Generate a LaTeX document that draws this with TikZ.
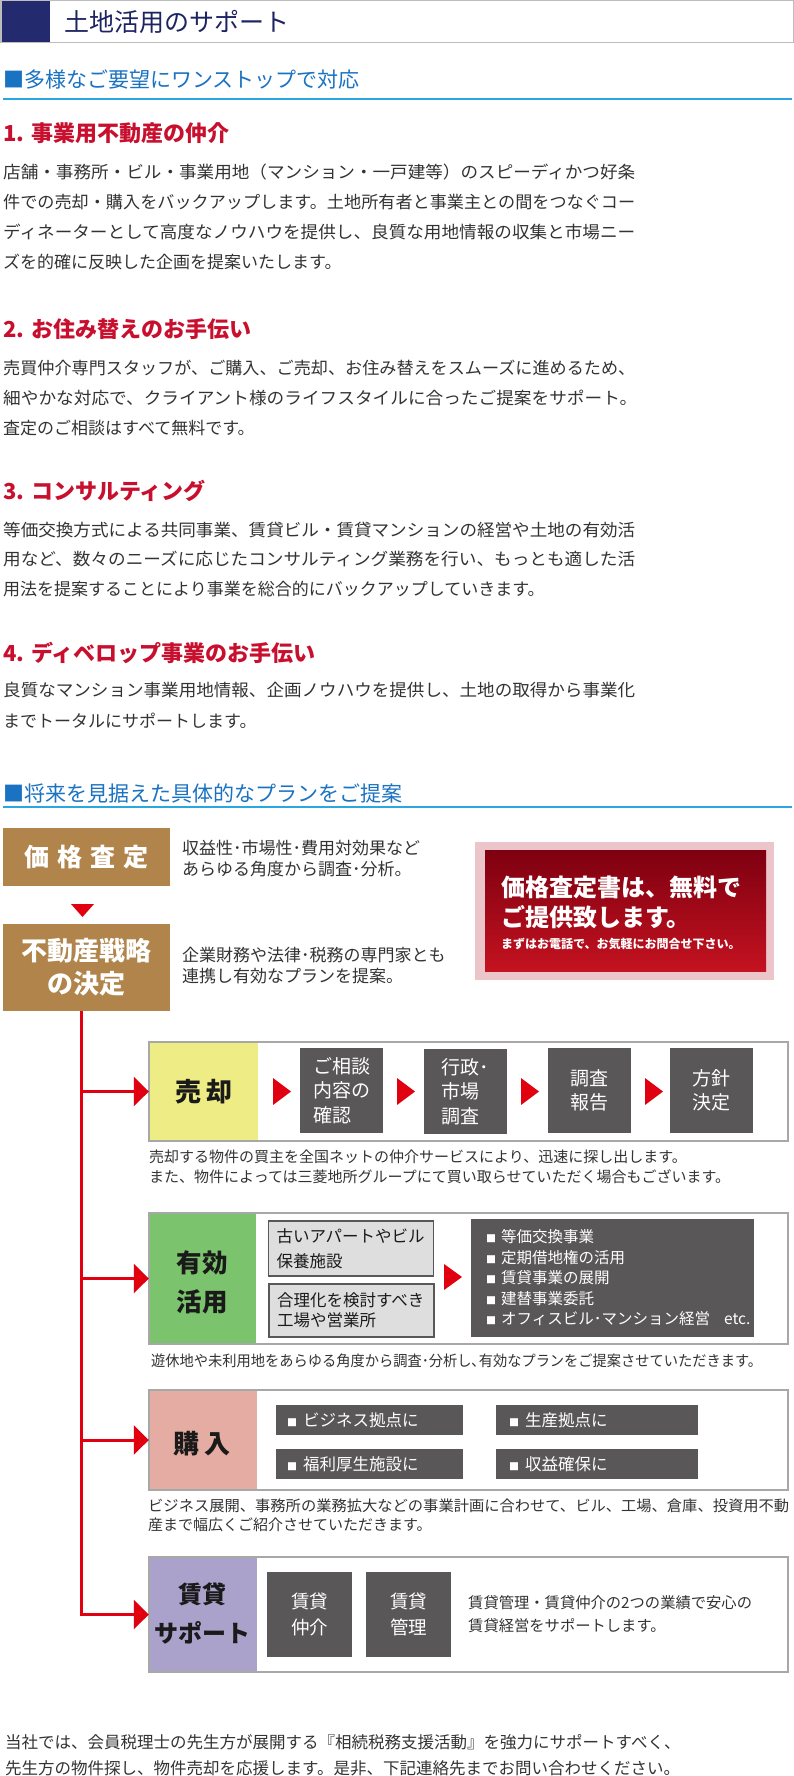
\documentclass[tikz,border=0pt]{standalone}
\usepackage{fontspec}
\usepackage{graphicx}
\setmainfont{Noto Sans CJK JP}
\usetikzlibrary{arrows.meta}
\definecolor{navy}{HTML}{232A6E}
\definecolor{titletxt}{HTML}{1E2462}
\definecolor{barline}{HTML}{BDBDBD}
\definecolor{hblue}{HTML}{1A72C2}
\definecolor{hline}{HTML}{2CA6E0}
\definecolor{hred}{HTML}{C8102E}
\definecolor{txt}{HTML}{333333}
\definecolor{tanc}{HTML}{B0844A}
\definecolor{flowred}{HTML}{E0000F}
\definecolor{pinkout}{HTML}{EBC5C9}
\definecolor{promotop}{HTML}{7E0010}
\definecolor{promobot}{HTML}{C41220}
\definecolor{stepgray}{HTML}{595757}
\definecolor{rowline}{HTML}{A8A8A8}
\definecolor{labyel}{HTML}{EEEC84}
\definecolor{labgreen}{HTML}{7CC36E}
\definecolor{labpink}{HTML}{E4ACA2}
\definecolor{labpurple}{HTML}{ABA2CC}
\definecolor{lightbox}{HTML}{DEDEDE}
\definecolor{labtext}{HTML}{1A1A1A}
\newcommand\fsz[2]{\fontsize{#1}{#2}\selectfont}
\newcommand\fitw[2]{\resizebox{#1pt}{\height}{#2}}
\newcommand\sq{{\fsz{10}{10}■}}
\newcommand\rtri[3]{\fill[flowred] (#1,#2-#3) -- (#1+18,#2) -- (#1,#2+#3) -- cycle;}
\begin{document}
\begin{tikzpicture}[x=1pt,y=-1pt,
  body/.style={anchor=west, inner sep=0pt, text=txt, font=\fsz{17}{20}},
  hdr/.style={anchor=west, inner sep=0pt, text=hblue, font=\fsz{21}{21}},
  redh/.style={anchor=west, inner sep=0pt, text=hred, font=\bfseries\fsz{22}{22}},
  desc/.style={anchor=west, inner sep=0pt, text=txt, align=left, font=\fsz{17}{21}},
  tanbox/.style={fill=tanc, text=white, inner sep=0pt, align=center},
  conn/.style={draw=flowred, line width=3pt, -{Triangle[width=29pt,length=15pt]}, shorten >=1pt},
  rowframe/.style={draw=rowline, line width=2pt},
  labbox/.style={inner sep=0pt},
  labtxt/.style={inner sep=0pt, text=labtext, align=center},
  stepbox/.style={fill=stepgray, text=white, inner sep=0pt, align=left, minimum width=83pt, minimum height=85pt, font=\fsz{19}{24.5}},
  litebox/.style={fill=lightbox, draw=stepgray, line width=1.5pt, inner ysep=0pt, inner xsep=8pt, text width=149pt, align=left, minimum width=165pt, text=labtext, font=\fsz{16.5}{25}},
  itembox/.style={fill=stepgray, text=white, inner ysep=0pt, align=left, minimum height=30pt, font=\fsz{16.5}{20}},
  captxt/.style={anchor=west, inner sep=0pt, text=txt, font=\fsz{15}{20}}
]
\useasboundingbox (0,0) rectangle (794,1776);
\fill[white] (0,0) rectangle (794,1776);

% ---------- title bar
\draw[barline, line width=1.5pt] (0.75,0.75) rectangle (793.25,42.5);
\fill[navy] (1.5,1.5) rectangle (50,42);
\node[anchor=west, inner sep=0pt, text=titletxt, font=\fsz{25}{25}] (title) at (64,21.5) {土地活用のサポート};

% ---------- section A
\node[hdr] (hA) at (3,80) {■多様なご要望にワンストップで対応};
\draw[hline, line width=2pt] (3,99) -- (792,99);

\node[redh] (s1) at (3,133) {1. 事業用不動産の仲介};
\node[body] (p1a) at (3,172) {\fitw{632}{店舗・事務所・ビル・事業用地（マンション・一戸建等）のスピーディかつ好条}};
\node[body] (p1b) at (3,202) {\fitw{632}{件での売却・購入をバックアップします。土地所有者と事業主との間をつなぐコー}};
\node[body] (p1c) at (3,232) {\fitw{632}{ディネーターとして高度なノウハウを提供し、良質な用地情報の収集と市場ニー}};
\node[body] (p1d) at (3,262) {ズを的確に反映した企画を提案いたします。};

\node[redh] (s2) at (3,329) {2. お住み替えのお手伝い};
\node[body] (p2a) at (3,368) {\fitw{632}{売買仲介専門スタッフが、ご購入、ご売却、お住み替えをスムーズに進めるため、}};
\node[body] (p2b) at (3,398) {\fitw{634}{細やかな対応で、クライアント様のライフスタイルに合ったご提案をサポート。}};
\node[body] (p2c) at (3,428) {査定のご相談はすべて無料です。};

\node[redh] (s3) at (3,491) {3. コンサルティング};
\node[body] (p3a) at (3,530) {\fitw{632}{等価交換方式による共同事業、賃貸ビル・賃貸マンションの経営や土地の有効活}};
\node[body] (p3b) at (3,559) {\fitw{632}{用など、数々のニーズに応じたコンサルティング業務を行い、もっとも適した活}};
\node[body] (p3c) at (3,589) {用法を提案することにより事業を総合的にバックアップしていきます。};

\node[redh] (s4) at (3,653) {4. ディベロップ事業のお手伝い};
\node[body] (p4a) at (3,690) {\fitw{632}{良質なマンション事業用地情報、企画ノウハウを提供し、土地の取得から事業化}};
\node[body] (p4b) at (3,721) {までトータルにサポートします。};

% ---------- section B
\node[hdr] (hB) at (3,793) {■将来を見据えた具体的なプランをご提案};
\draw[hline, line width=2pt] (3,807) -- (792,807);

\node[tanbox, minimum width=167.5pt, minimum height=58pt, font=\bfseries\fsz{25}{25}] (kakaku) at (86.25,857) {価\hspace{8pt}格\hspace{8pt}査\hspace{8pt}定};
\fill[flowred] (71,904) -- (94,904) -- (82.5,917) -- cycle;
\node[tanbox, minimum width=167.5pt, minimum height=87pt, font=\bfseries\fsz{26}{33}] (senryaku) at (86.25,967.5) {不動産戦略\\の決定};

\node[desc] (d1) at (182,858.5) {収益性･市場性･費用対効果など\\あらゆる角度から調査･分析。};
\node[desc] (d2) at (182,965.5) {企業財務や法律･税務の専門家とも\\連携し有効なプランを提案。};

% promo
\node[fill=pinkout, minimum width=299pt, minimum height=138pt, inner sep=0pt] (promoout) at (624.5,911) {};
\node[top color=promotop, bottom color=promobot, minimum width=281pt, minimum height=121pt, inner sep=0pt] (promo) at (625.5,910.5) {};
\node[anchor=west, inner sep=0pt, text=white, align=left, font=\bfseries\fsz{24}{30}] (promo1) at (501,902) {価格査定書は、無料で\\ご提供致します。};
\node[anchor=west, inner sep=0pt, text=white, font=\bfseries\fsz{12}{12}] (promo2) at (501,944) {まずはお電話で、お気軽にお問合せ下さい。};

% ---------- row 1 : sell
\draw[rowframe] (149,1042) rectangle (788,1141);
\node[labbox, fill=labyel, minimum width=108pt, minimum height=97pt] (l1) at (204,1091.5) {};
\node[labtxt, font=\bfseries\fsz{26}{26}] (l1t) at (204,1092) {売\hspace{6pt}却};
\node[stepbox] (a1) at (341.5,1090.5) {ご相談\\内容の\\確認};
\node[stepbox] (a2) at (465.5,1091.5) {行政･\\市場\\調査};
\node[stepbox] (a3) at (589.5,1090.5) {調査\\報告};
\node[stepbox] (a4) at (711.5,1090.5) {方針\\決定};
\rtri{273}{1091.5}{13.5}
\rtri{397}{1091.5}{13.5}
\rtri{521}{1091.5}{13.5}
\rtri{645}{1091.5}{13.5}
\node[captxt] (c1a) at (149,1157) {売却する物件の買主を全国ネットの仲介サービスにより、迅速に探し出します。};
\node[captxt] (c1b) at (149,1177) {また、物件によっては三菱地所グループにて買い取らせていただく場合もございます。};

% ---------- row 2 : utilisation
\draw[rowframe] (149,1213) rectangle (788,1344);
\node[labbox, fill=labgreen, minimum width=106pt, minimum height=129pt] (l2) at (203,1278.5) {};
\node[labtxt, font=\bfseries\fsz{25.5}{39}] (l2t) at (202,1282.5) {有効\\活用};
\node[litebox, minimum height=55pt] (b1) at (351,1248.5) {古いアパートやビル\\保養施設};
\node[litebox, minimum height=53pt, font=\fsz{16.5}{20}] (b2) at (351.5,1310.5) {合理化を検討すべき\\工場や営業所};
\rtri{444}{1277}{13}
\node[fill=stepgray, minimum width=283pt, minimum height=118pt, inner sep=0pt] (lst) at (612.5,1278) {};
\node[anchor=west, inner sep=0pt, text=white, align=left, font=\fsz{15.5}{20.5}] (lstt) at (486,1278) {\sq\hspace{5pt}等価交換事業\\\sq\hspace{5pt}定期借地権の活用\\\sq\hspace{5pt}賃貸事業の展開\\\sq\hspace{5pt}建替事業委託\\\sq\hspace{5pt}オフィスビル･マンション経営\hspace{14pt}etc.};
\node[captxt] (c2) at (151,1361) {\fitw{611}{遊休地や未利用地をあらゆる角度から調査･分析し､有効なプランをご提案させていただきます。}};

% ---------- row 3 : purchase
\draw[rowframe] (149,1390) rectangle (788,1490);
\node[labbox, fill=labpink, minimum width=107pt, minimum height=98pt] (l3) at (203.5,1440) {};
\node[labtxt, font=\bfseries\fsz{26}{26}] (l3t) at (202,1444) {購\hspace{6pt}入};
\node[itembox, minimum width=187pt, inner xsep=11pt, text width=165pt] (i1) at (369.5,1420) {\sq\hspace{6pt}ビジネス拠点に};
\node[itembox, minimum width=202pt, inner xsep=13pt, text width=176pt] (i2) at (597,1420) {\sq\hspace{6pt}生産拠点に};
\node[itembox, minimum width=187pt, inner xsep=11pt, text width=165pt] (i3) at (369.5,1464) {\sq\hspace{6pt}福利厚生施設に};
\node[itembox, minimum width=202pt, inner xsep=13pt, text width=176pt] (i4) at (597,1464) {\sq\hspace{6pt}収益確保に};
\node[captxt] (c3a) at (148,1506) {\fitw{641}{ビジネス展開、事務所の業務拡大などの事業計画に合わせて、ビル、工場、倉庫、投資用不動}};
\node[captxt] (c3b) at (148,1525) {産まで幅広くご紹介させていただきます。};

% ---------- row 4 : rental support
\draw[rowframe] (149,1557) rectangle (788,1672);
\node[labbox, fill=labpurple, minimum width=107pt, minimum height=113pt] (l4) at (203.5,1614.5) {};
\node[labtxt, font=\bfseries\fsz{24}{39}] (l4t) at (202,1613.5) {賃貸\\サポート};
\node[stepbox, minimum width=85pt, minimum height=85pt, font=\fsz{18.5}{26}] (r1) at (309.5,1614.5) {賃貸\\仲介};
\node[stepbox, minimum width=85pt, minimum height=85pt, font=\fsz{18.5}{26}] (r2) at (408.5,1614.5) {賃貸\\管理};
\node[anchor=west, inner sep=0pt, text=txt, align=left, font=\fsz{15.3}{23}] (r3) at (468,1614.5) {賃貸管理・賃貸仲介の2つの業績で安心の\\賃貸経営をサポートします。};

% ---------- connectors
\coordinate (t0) at (81,1011);
\draw[conn] (t0) |- (l4.west);
\draw[conn] (t0 |- l1.west) -- (l1.west);
\draw[conn] (t0 |- l2.west) -- (l2.west);
\draw[conn] (t0 |- l3.west) -- (l3.west);

% ---------- footer text
\node[anchor=west, inner sep=0pt, text=txt, align=left, font=\fsz{16.5}{26}] (foot) at (5,1755) {当社では、会員税理士の先生方が展開する『相続税務支援活動』を強力にサポートすべく、\\先生方の物件探し、物件売却を応援します。是非、下記連絡先までお問い合わせください。};
\end{tikzpicture}
\end{document}
